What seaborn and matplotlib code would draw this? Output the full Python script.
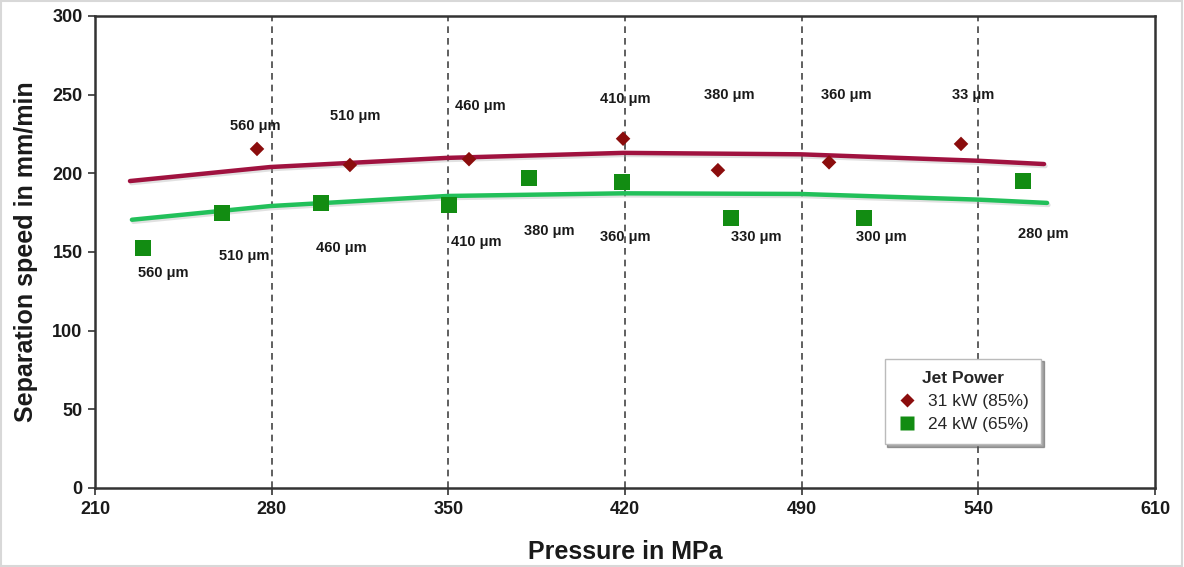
import numpy as np
import pandas as pd
import matplotlib
matplotlib.use("Agg")
import matplotlib.pyplot as plt
import matplotlib.patheffects as pe
from matplotlib.lines import Line2D
import seaborn as sns

# ---------------- data ----------------
tick_labels = ["210", "280", "350", "420", "490", "540", "610"]
tick_pos = [0, 1, 2, 3, 4, 5, 6]
dashed_pos = [1, 2, 3, 4, 5]

red_x = [0.917, 1.443, 2.117, 2.989, 3.526, 4.155, 4.902]
red_y = [215.5, 205.3, 209.0, 222.0, 202.0, 207.0, 218.7]
red_labels = ["560 μm", "510 μm", "460 μm", "410 μm", "380 μm", "360 μm", "33 μm"]

green_x = [0.272, 0.719, 1.279, 2.004, 2.457, 2.983, 3.600, 4.353, 5.253]
green_y = [152.6, 174.8, 181.0, 180.0, 197.0, 194.5, 171.6, 171.6, 195.0]
green_labels = ["560 μm", "510 μm", "460 μm", "410 μm", "380 μm", "360 μm",
                "330 μm", "300 μm", "280 μm"]

red_trend_x = [0.198, 0.991, 1.987, 2.989, 3.990, 4.998, 5.372]
red_trend_y = [195.1, 204.0, 209.8, 213.0, 212.1, 208.0, 205.9]
green_trend_x = [0.209, 0.991, 1.992, 2.989, 3.990, 4.998, 5.389]
green_trend_y = [170.5, 179.2, 185.6, 187.3, 186.9, 183.3, 181.2]

series_names = ["31 kW (85%)", "24 kW (65%)"]

# label offsets in pixels (dx, dy) relative to their markers
red_off = [(-2, 23), (5, 49), (11, 53), (2, 40), (11, 75), (17, 67), (12, 49)]
green_off = [(20, -25), (22, -43), (20, -45), (27, -37), (20, -53), (3, -55),
             (25, -19), (17, -19), (20, -53)]

# ---------------- style ----------------
sns.set_theme(style="white")
plt.rcParams["font.family"] = ["Liberation Sans", "DejaVu Sans"]

RED_MK = "#8b0d0d"
RED_LN = "#a0123f"
GRN_MK = "#128c12"
GRN_LN = "#22c05a"

fig = plt.figure(figsize=(11.84, 5.67), dpi=100)
ax = fig.add_axes([95 / 1184, 1 - 488 / 567, (1155 - 95) / 1184, (488 - 16) / 567])

for p in dashed_pos:
    ax.axvline(p, color="#444444", lw=1.2, ls=(0, (4, 3)), zorder=1)

shadow = [pe.SimpleLineShadow(offset=(1, -1.5), shadow_color="#aaaaaa", alpha=0.35), pe.Normal()]

df_rt = pd.DataFrame({"x": red_trend_x, "y": red_trend_y})
df_gt = pd.DataFrame({"x": green_trend_x, "y": green_trend_y})
sns.lineplot(data=df_rt, x="x", y="y", ax=ax, color=RED_LN, lw=3.2, zorder=2,
             path_effects=shadow, sort=True)
sns.lineplot(data=df_gt, x="x", y="y", ax=ax, color=GRN_LN, lw=3.2, zorder=2,
             path_effects=shadow, sort=True)

df_r = pd.DataFrame({"x": red_x, "y": red_y, "s": series_names[0]})
df_g = pd.DataFrame({"x": green_x, "y": green_y, "s": series_names[1]})
df = pd.concat([df_r, df_g], ignore_index=True)
sns.scatterplot(data=df, x="x", y="y", hue="s", style="s",
                markers={series_names[0]: "D", series_names[1]: "s"},
                palette={series_names[0]: RED_MK, series_names[1]: GRN_MK},
                size="s", sizes={series_names[0]: 55, series_names[1]: 130},
                edgecolor="none", ax=ax, zorder=3, legend=False)

for x, y, t, (dx, dy) in zip(red_x, red_y, red_labels, red_off):
    ax.annotate(t, (x, y), xytext=(dx, dy), textcoords="offset pixels",
                ha="center", va="center", fontsize=10.5, fontweight="bold", color="#1a1a1a")
for x, y, t, (dx, dy) in zip(green_x, green_y, green_labels, green_off):
    ax.annotate(t, (x, y), xytext=(dx, dy), textcoords="offset pixels",
                ha="center", va="center", fontsize=10.5, fontweight="bold", color="#1a1a1a")

ax.set_xlim(0, 6)
ax.set_ylim(0, 300)
ax.set_xticks(tick_pos)
ax.set_xticklabels(tick_labels)
ax.set_yticks([0, 50, 100, 150, 200, 250, 300])
ax.tick_params(axis="both", direction="out", length=5, width=1.2, color="#333333",
               labelsize=13, pad=4, bottom=True, left=True)
for lab in ax.get_xticklabels() + ax.get_yticklabels():
    lab.set_fontweight("bold")
    lab.set_color("#1a1a1a")
for sp in ax.spines.values():
    sp.set_visible(True)
    sp.set_color("#333333")
    sp.set_linewidth(1.8)

ax.set_xlabel("Pressure in MPa", fontsize=18, fontweight="bold", color="#1a1a1a", labelpad=16)
ax.set_ylabel("Separation speed in mm/min", fontsize=18, fontweight="bold", color="#1a1a1a", labelpad=10)

# legend
handles = [Line2D([], [], ls="none", marker="D", ms=7, color=RED_MK, mec="none"),
           Line2D([], [], ls="none", marker="s", ms=10, color=GRN_MK, mec="none")]
leg = ax.legend(handles, series_names, title="Jet Power", loc="upper left",
                bbox_to_anchor=((876 - 95) / 1060, 1 - (350 - 16) / 472),
                frameon=True, fancybox=False, shadow=True, fontsize=12.5,
                title_fontproperties={"weight": "bold", "size": 12.5},
                handletextpad=0.6, borderpad=0.7, labelspacing=0.45, handlelength=1.2)
leg.get_frame().set_edgecolor("#bbbbbb")
leg.get_frame().set_linewidth(1.0)

fig.patches.append(plt.Rectangle((0.001, 0.001), 0.997, 0.997, transform=fig.transFigure,
                                 fill=False, edgecolor="#d8d8d8", lw=1.5))

fig.savefig("out.png", dpi=100)
